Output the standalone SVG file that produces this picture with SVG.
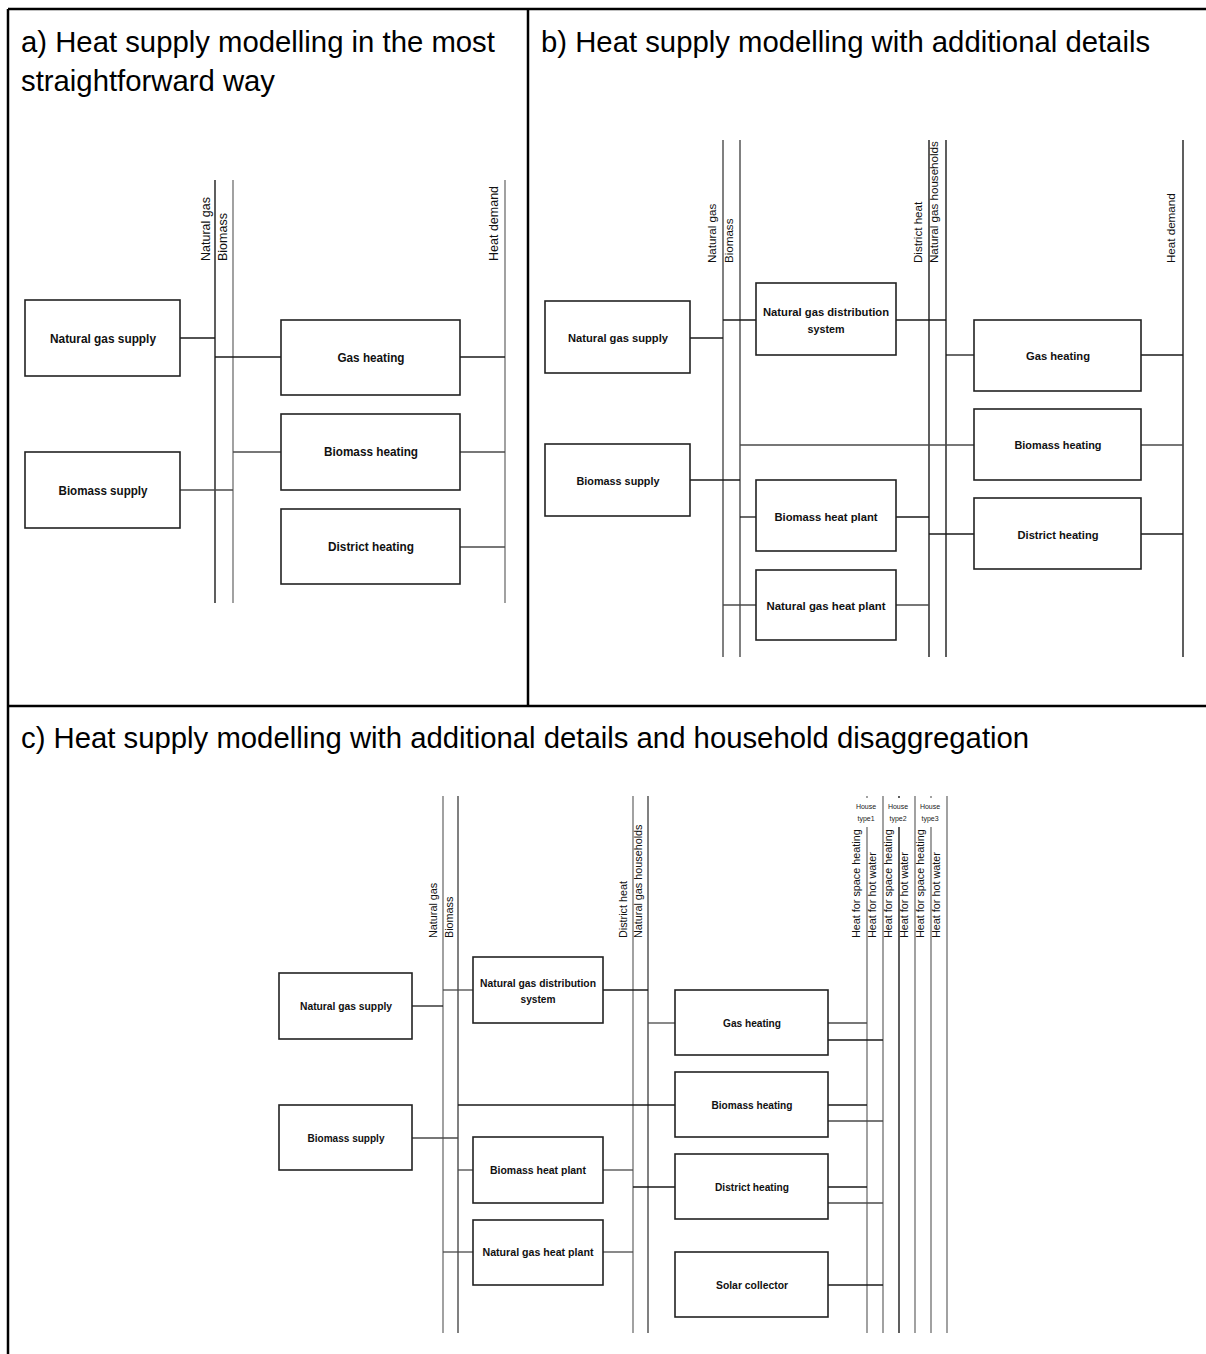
<svg xmlns="http://www.w3.org/2000/svg" width="1206" height="1354" viewBox="0 0 1206 1354">
<style>
.frame{stroke:#000;stroke-width:2.5;fill:none}
.title{font-family:"Liberation Sans",Arial,sans-serif;font-size:29.3px;fill:#000}
.box{fill:#fff;stroke:#222;stroke-width:1.6}
.lbl{font-family:"Liberation Sans",Arial,sans-serif;font-weight:bold;fill:#111;text-anchor:middle}
.la{font-size:12.5px}.lb{font-size:11.5px}.lc{font-size:10.5px}
.bus{stroke-width:1.4;fill:none}
.bk{stroke:#1a1a1a}.gr{stroke:#7a7a7a}.md{stroke:#4a4a4a}
.rot{font-family:"Liberation Sans",Arial,sans-serif;fill:#111}
.ra{font-size:12.5px}.rb{font-size:11.6px}.rc{font-size:10.8px}
.ht{font-family:"Liberation Sans",Arial,sans-serif;font-size:7px;fill:#222;text-anchor:middle}
.cn{stroke-width:1.3;fill:none}
</style>

<g id="frames">
<line class="frame" x1="8" y1="9" x2="1206" y2="9"/>
<line class="frame" x1="8" y1="9" x2="8" y2="1354"/>
<line class="frame" x1="528" y1="9" x2="528" y2="706"/>
<line class="frame" x1="8" y1="706" x2="1206" y2="706"/>
</g>

<g id="titles">
<text class="title" x="21" y="52">a) Heat supply modelling in the most</text>
<text class="title" x="21" y="91">straightforward way</text>
<text class="title" x="541" y="52">b) Heat supply modelling with additional details</text>
<text class="title" x="21" y="748">c) Heat supply modelling with additional details and household disaggregation</text>
</g>

<!-- ================= Panel a ================= -->
<g id="panel-a-buses">
<g id="a-bus-natural-gas"><line class="bus bk" x1="215" y1="180" x2="215" y2="603"/><text class="rot ra" transform="translate(210,261) rotate(-90)">Natural gas</text></g>
<g id="a-bus-biomass"><line class="bus gr" x1="233" y1="180" x2="233" y2="603"/><text class="rot ra" transform="translate(227,261) rotate(-90)">Biomass</text></g>
<g id="a-bus-heat-demand"><line class="bus gr" x1="505" y1="180" x2="505" y2="603"/><text class="rot ra" transform="translate(498,261) rotate(-90)">Heat demand</text></g>
</g>
<g id="panel-a-connectors">
<line class="cn bk" x1="180" y1="338" x2="215" y2="338"/>
<line class="cn bk" x1="215" y1="357" x2="281" y2="357"/>
<line class="cn md" x1="180" y1="490" x2="233" y2="490"/>
<line class="cn md" x1="233" y1="452" x2="281" y2="452"/>
<line class="cn bk" x1="460" y1="357" x2="505" y2="357"/>
<line class="cn md" x1="460" y1="452" x2="505" y2="452"/>
<line class="cn md" x1="460" y1="547" x2="505" y2="547"/>
</g>
<g id="a-natural-gas-supply"><rect class="box" x="25" y="300" width="155" height="76"/><text class="lbl la" x="103" y="343" textLength="106" lengthAdjust="spacingAndGlyphs">Natural gas supply</text></g>
<g id="a-biomass-supply"><rect class="box" x="25" y="452" width="155" height="76"/><text class="lbl la" x="103" y="495" textLength="89" lengthAdjust="spacingAndGlyphs">Biomass supply</text></g>
<g id="a-gas-heating"><rect class="box" x="281" y="320" width="179" height="75"/><text class="lbl la" x="371" y="362" textLength="67" lengthAdjust="spacingAndGlyphs">Gas heating</text></g>
<g id="a-biomass-heating"><rect class="box" x="281" y="414" width="179" height="76"/><text class="lbl la" x="371" y="456" textLength="94" lengthAdjust="spacingAndGlyphs">Biomass heating</text></g>
<g id="a-district-heating"><rect class="box" x="281" y="509" width="179" height="75"/><text class="lbl la" x="371" y="551" textLength="86" lengthAdjust="spacingAndGlyphs">District heating</text></g>

<!-- ================= Panel b ================= -->
<g id="panel-b-buses">
<g id="b-bus-natural-gas"><line class="bus md" x1="723" y1="140" x2="723" y2="657"/><text class="rot rb" transform="translate(716,263) rotate(-90)">Natural gas</text></g>
<g id="b-bus-biomass"><line class="bus md" x1="740" y1="140" x2="740" y2="657"/><text class="rot rb" transform="translate(733,263) rotate(-90)">Biomass</text></g>
<g id="b-bus-district-heat"><line class="bus bk" x1="929" y1="140" x2="929" y2="657"/><text class="rot rb" transform="translate(922,263) rotate(-90)">District heat</text></g>
<g id="b-bus-ng-households"><line class="bus bk" x1="946" y1="140" x2="946" y2="657"/><text class="rot rb" transform="translate(938,263) rotate(-90)">Natural gas households</text></g>
<g id="b-bus-heat-demand"><line class="bus bk" x1="1183" y1="140" x2="1183" y2="657"/><text class="rot rb" transform="translate(1175,263) rotate(-90)">Heat demand</text></g>
</g>
<g id="panel-b-connectors">
<line class="cn bk" x1="690" y1="338" x2="723" y2="338"/>
<line class="cn bk" x1="723" y1="320" x2="756" y2="320"/>
<line class="cn bk" x1="896" y1="320" x2="946" y2="320"/>
<line class="cn bk" x1="946" y1="355" x2="974" y2="355"/>
<line class="cn bk" x1="1141" y1="355" x2="1183" y2="355"/>
<line class="cn bk" x1="690" y1="480" x2="740" y2="480"/>
<line class="cn md" x1="740" y1="445" x2="974" y2="445"/>
<line class="cn md" x1="1141" y1="445" x2="1183" y2="445"/>
<line class="cn bk" x1="740" y1="517" x2="756" y2="517"/>
<line class="cn bk" x1="896" y1="517" x2="929" y2="517"/>
<line class="cn bk" x1="929" y1="534" x2="974" y2="534"/>
<line class="cn bk" x1="1141" y1="534" x2="1183" y2="534"/>
<line class="cn md" x1="723" y1="605" x2="756" y2="605"/>
<line class="cn md" x1="896" y1="605" x2="929" y2="605"/>
</g>
<g id="b-natural-gas-supply"><rect class="box" x="545" y="301" width="145" height="72"/><text class="lbl lb" x="618" y="342" textLength="100" lengthAdjust="spacingAndGlyphs">Natural gas supply</text></g>
<g id="b-biomass-supply"><rect class="box" x="545" y="444" width="145" height="72"/><text class="lbl lb" x="618" y="485" textLength="83" lengthAdjust="spacingAndGlyphs">Biomass supply</text></g>
<g id="b-ng-distribution"><rect class="box" x="756" y="283" width="140" height="72"/><text class="lbl lb" x="826" y="316" textLength="126" lengthAdjust="spacingAndGlyphs">Natural gas distribution</text><text class="lbl lb" x="826" y="333" textLength="37" lengthAdjust="spacingAndGlyphs">system</text></g>
<g id="b-gas-heating"><rect class="box" x="974" y="320" width="167" height="71"/><text class="lbl lb" x="1058" y="360" textLength="64" lengthAdjust="spacingAndGlyphs">Gas heating</text></g>
<g id="b-biomass-heating"><rect class="box" x="974" y="409" width="167" height="71"/><text class="lbl lb" x="1058" y="449" textLength="87" lengthAdjust="spacingAndGlyphs">Biomass heating</text></g>
<g id="b-biomass-heat-plant"><rect class="box" x="756" y="480" width="140" height="71"/><text class="lbl lb" x="826" y="521" textLength="103" lengthAdjust="spacingAndGlyphs">Biomass heat plant</text></g>
<g id="b-district-heating"><rect class="box" x="974" y="498" width="167" height="71"/><text class="lbl lb" x="1058" y="539" textLength="81" lengthAdjust="spacingAndGlyphs">District heating</text></g>
<g id="b-ng-heat-plant"><rect class="box" x="756" y="570" width="140" height="70"/><text class="lbl lb" x="826" y="610" textLength="119" lengthAdjust="spacingAndGlyphs">Natural gas heat plant</text></g>

<!-- ================= Panel c ================= -->
<g id="panel-c-buses">
<g id="c-bus-natural-gas"><line class="bus gr" x1="443" y1="796" x2="443" y2="1333"/><text class="rot rc" transform="translate(437,938) rotate(-90)">Natural gas</text></g>
<g id="c-bus-biomass"><line class="bus md" x1="458" y1="796" x2="458" y2="1333"/><text class="rot rc" transform="translate(453,938) rotate(-90)">Biomass</text></g>
<g id="c-bus-district-heat"><line class="bus gr" x1="633" y1="796" x2="633" y2="1333"/><text class="rot rc" transform="translate(627,938) rotate(-90)">District heat</text></g>
<g id="c-bus-ng-households"><line class="bus md" x1="648" y1="796" x2="648" y2="1333"/><text class="rot rc" transform="translate(642,938) rotate(-90)">Natural gas households</text></g>
<g id="c-household-buses">
<line class="bus gr" x1="867" y1="796" x2="867" y2="1333"/>
<line class="bus gr" x1="883" y1="796" x2="883" y2="1333"/>
<line class="bus bk" x1="899" y1="796" x2="899" y2="1333"/>
<line class="bus gr" x1="915" y1="796" x2="915" y2="1333"/>
<line class="bus gr" x1="931" y1="796" x2="931" y2="1333"/>
<line class="bus gr" x1="947" y1="796" x2="947" y2="1333"/>
<rect x="852" y="798" width="29" height="29" fill="#fff"/>
<rect x="885" y="798" width="28" height="29" fill="#fff"/>
<rect x="917" y="798" width="28" height="29" fill="#fff"/>
<text class="ht" x="866" y="809">House</text><text class="ht" x="866" y="821">type1</text>
<text class="ht" x="898" y="809">House</text><text class="ht" x="898" y="821">type2</text>
<text class="ht" x="930" y="809">House</text><text class="ht" x="930" y="821">type3</text>
<text class="rot rc" transform="translate(860,938) rotate(-90)">Heat for space heating</text>
<text class="rot rc" transform="translate(876,938) rotate(-90)">Heat for hot water</text>
<text class="rot rc" transform="translate(892,938) rotate(-90)">Heat for space heating</text>
<text class="rot rc" transform="translate(908,938) rotate(-90)">Heat for hot water</text>
<text class="rot rc" transform="translate(924,938) rotate(-90)">Heat for space heating</text>
<text class="rot rc" transform="translate(940,938) rotate(-90)">Heat for hot water</text>
</g>
</g>
<g id="panel-c-connectors">
<line class="cn bk" x1="412" y1="1006" x2="443" y2="1006"/>
<line class="cn md" x1="443" y1="990" x2="473" y2="990"/>
<line class="cn bk" x1="603" y1="990" x2="648" y2="990"/>
<line class="cn md" x1="648" y1="1023" x2="675" y2="1023"/>
<line class="cn md" x1="828" y1="1023" x2="867" y2="1023"/>
<line class="cn bk" x1="828" y1="1040" x2="883" y2="1040"/>
<line class="cn md" x1="412" y1="1138" x2="458" y2="1138"/>
<line class="cn bk" x1="458" y1="1105" x2="675" y2="1105"/>
<line class="cn bk" x1="828" y1="1105" x2="867" y2="1105"/>
<line class="cn md" x1="828" y1="1121" x2="883" y2="1121"/>
<line class="cn md" x1="458" y1="1170" x2="473" y2="1170"/>
<line class="cn md" x1="603" y1="1170" x2="633" y2="1170"/>
<line class="cn bk" x1="633" y1="1187" x2="675" y2="1187"/>
<line class="cn bk" x1="828" y1="1187" x2="867" y2="1187"/>
<line class="cn md" x1="828" y1="1203" x2="883" y2="1203"/>
<line class="cn md" x1="443" y1="1252" x2="473" y2="1252"/>
<line class="cn md" x1="603" y1="1252" x2="633" y2="1252"/>
<line class="cn bk" x1="828" y1="1285" x2="883" y2="1285"/>
</g>
<g id="c-natural-gas-supply"><rect class="box" x="279" y="973" width="133" height="66"/><text class="lbl lc" x="346" y="1010" textLength="92" lengthAdjust="spacingAndGlyphs">Natural gas supply</text></g>
<g id="c-biomass-supply"><rect class="box" x="279" y="1105" width="133" height="65"/><text class="lbl lc" x="346" y="1142" textLength="77" lengthAdjust="spacingAndGlyphs">Biomass supply</text></g>
<g id="c-ng-distribution"><rect class="box" x="473" y="957" width="130" height="66"/><text class="lbl lc" x="538" y="987" textLength="116" lengthAdjust="spacingAndGlyphs">Natural gas distribution</text><text class="lbl lc" x="538" y="1003" textLength="35" lengthAdjust="spacingAndGlyphs">system</text></g>
<g id="c-gas-heating"><rect class="box" x="675" y="990" width="153" height="65"/><text class="lbl lc" x="752" y="1027" textLength="58" lengthAdjust="spacingAndGlyphs">Gas heating</text></g>
<g id="c-biomass-heating"><rect class="box" x="675" y="1072" width="153" height="65"/><text class="lbl lc" x="752" y="1109" textLength="81" lengthAdjust="spacingAndGlyphs">Biomass heating</text></g>
<g id="c-biomass-heat-plant"><rect class="box" x="473" y="1137" width="130" height="66"/><text class="lbl lc" x="538" y="1174" textLength="96" lengthAdjust="spacingAndGlyphs">Biomass heat plant</text></g>
<g id="c-district-heating"><rect class="box" x="675" y="1154" width="153" height="65"/><text class="lbl lc" x="752" y="1191" textLength="74" lengthAdjust="spacingAndGlyphs">District heating</text></g>
<g id="c-ng-heat-plant"><rect class="box" x="473" y="1220" width="130" height="65"/><text class="lbl lc" x="538" y="1256" textLength="111" lengthAdjust="spacingAndGlyphs">Natural gas heat plant</text></g>
<g id="c-solar-collector"><rect class="box" x="675" y="1252" width="153" height="65"/><text class="lbl lc" x="752" y="1289" textLength="72" lengthAdjust="spacingAndGlyphs">Solar collector</text></g>
</svg>
